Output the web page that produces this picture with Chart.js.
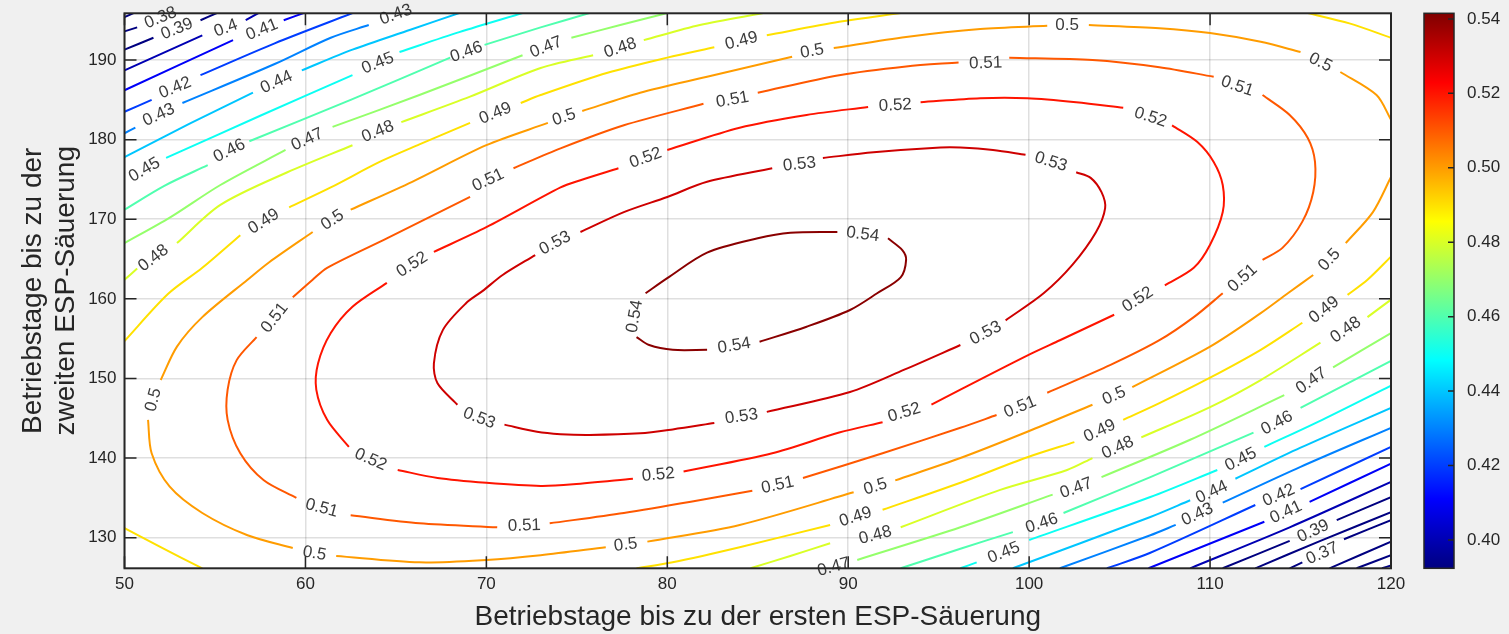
<!DOCTYPE html>
<html>
<head>
<meta charset="utf-8">
<script src="https://cdn.jsdelivr.net/npm/chart.js@4.4.1/dist/chart.umd.min.js"></script>
<style>
    html, body { margin: 0; padding: 0; background: #f0f0f0; }
    #wrap { width: 1509px; height: 634px; position: relative; }
</style>
</head>
<body>
<div id="wrap"><canvas id="contourChart"></canvas></div>
<script>
// axes
const xRange = [50, 120];
const yRange = [126.15, 195.87];
const xTicks = [50, 60, 70, 80, 90, 100, 110, 120];
const yTicks = [130, 140, 150, 160, 170, 180, 190];
const cbRange = [0.3924, 0.5415];
const cbTicks = [0.40, 0.42, 0.44, 0.46, 0.48, 0.50, 0.52, 0.54];
const xTitle = 'Betriebstage bis zu der ersten ESP-Säuerung';
const yTitle = ['Betriebstage bis zu der', 'zweiten ESP-Säuerung'];

// contour lines, [x, y]; null = gap left for the inline label
const c054 = [[78.8,160.7],[80.0,162.6],[82.2,165.8],[85.0,167.6],[86.8,168.3],[89.4,168.4],null,[92.2,167.6],[93.0,166.1],[93.2,164.9],[92.9,162.7],[91.6,160.7],[90.1,158.6],[87.7,156.5],[85.1,154.6],null,[82.2,153.6],[80.3,153.6],[79.0,154.2],[78.3,155.2]];
const c053 = [[72.7,165.5],[70.9,163.0],[69.8,161.0],[68.9,159.5],[67.6,156.1],[67.1,151.9],[67.3,149.4],[68.4,146.7],null,[71.0,144.2],[72.8,143.3],[74.1,143.0],[75.7,142.9],[78.5,143.1],[80.3,143.6],[82.6,144.4],null,[85.5,145.8],[90.1,148.3],[93.1,151.1],[96.2,154.2],null,[98.7,157.3],[100.8,160.7],[102.4,164.3],[103.7,168.4],[104.2,171.4],[104.0,173.4],[103.4,175.2],[102.6,175.9],null,[99.8,178.1],[98.0,178.7],[96.2,179.0],[95.1,179.0],[91.4,178.4],[88.6,177.7],null,[85.8,176.4],[82.2,174.7],[80.0,172.8],[77.6,170.9],[75.2,168.4]];
const c052 = [[80.0,178.7],[84.0,181.5],[87.7,183.1],[91.1,184.1],null,[94.0,184.7],[97.3,185.2],[99.9,185.2],[102.6,184.7],[105.2,184.0],null,[107.9,181.8],[109.3,179.7],[110.2,177.2],[110.7,174.3],[110.7,170.9],[110.0,166.8],[109.1,163.9],[107.5,161.7],null,[104.7,158.0],[101.7,154.8],[100.0,153.0],[96.2,148.6],[94.6,146.7],null,[91.9,144.5],[89.5,143.2],[85.8,140.6],[80.9,138.3],null,[78.1,137.4],[74.8,136.7],[73.0,136.5],[70.0,136.9],[67.3,137.5],[65.1,138.5],null,[62.4,141.4],[61.2,144.8],[60.6,148.6],[60.7,151.9],[61.4,155.7],[62.6,159.0],[64.5,162.0],null,[67.1,165.9],[70.0,169.0],[74.1,174.0],[75.2,174.9],[77.3,176.4]];
const c051 = [[98.9,190.3],[103.5,190.0],[107.2,189.1],[110.2,187.9],null,[112.9,185.6],[114.4,183.1],[115.4,180.2],[115.8,177.2],[115.7,173.4],[115.1,169.7],[114.0,166.4],[112.9,164.9],null,[110.7,160.7],[109.1,157.7],[107.2,154.8],[104.5,151.7],[101.0,148.2],null,[98.2,145.4],[96.2,143.8],[91.9,140.6],[87.5,137.5],null,[84.7,135.9],[81.3,134.5],[77.6,133.1],[73.5,131.8],null,[70.6,131.3],[66.3,131.8],[62.5,132.8],null,[59.5,135.0],[57.7,137.2],[56.4,140.6],[55.7,144.8],[55.7,148.6],[56.2,152.3],[57.3,155.2],null,[59.3,160.2],[60.4,162.4],[61.2,163.9],[64.5,167.6],[69.1,172.8],null,[71.5,176.4],[74.1,178.9],[77.6,181.8],[82.0,184.5],null,[85.0,185.9],[89.5,188.1],[93.2,189.2],[96.1,189.7]];
const c050 = [[120.0,175.3],[119.0,170.9],[117.5,167.0],null,[115.7,163.0],[114.3,160.7],[112.8,158.2],[110.0,154.0],[105.7,148.9],null,[103.5,146.7],[99.9,143.3],[96.2,140.0],[92.6,137.2],null,[90.3,135.7],[84.0,131.6],[78.9,129.5],null,[76.6,128.8],[73.0,127.8],[70.0,127.2],[66.3,126.9],[61.7,127.7],null,[59.3,128.7],[56.8,130.3],[54.3,133.1],[52.5,136.4],[51.5,140.6],[51.3,144.8],null,[52.0,149.8],[52.9,154.0],[54.3,157.7],[56.8,162.4],[58.0,164.6],[60.4,168.4],null,[62.5,171.2],[65.9,174.7],[70.0,179.3],[73.4,182.1],null,[75.3,183.6],[78.5,185.9],[82.2,187.9],[86.9,190.4],null,[89.2,191.5],[93.2,192.9],[97.3,193.9],[101.0,194.3],null,[103.3,194.4],[107.2,194.0],[110.0,193.4],[112.8,192.3],[115.0,191.0],null,[117.2,188.5],[119.2,185.6],[120.0,182.5]];
const c049a = [[115.4,195.9],[117.7,194.6],[120.0,192.8]];
const c049b = [[92.9,195.9],[89.5,194.8],[85.5,193.1],null,[82.6,191.6],[80.0,190.3],[76.7,188.4],[73.0,185.6],[71.9,184.6],null,[69.1,182.1],[66.3,179.4],[64.1,177.2],[61.4,174.0],[59.1,171.5],null,[56.4,168.0],[54.3,163.9],[52.4,160.6],[50.0,154.7]];
const c049c = [[50.0,131.2],[52.0,128.8],[54.3,126.15]];
const c049d = [[78.3,126.15],[80.3,126.9],[84.0,128.8],[89.0,131.6],null,[91.9,133.5],[96.2,136.9],[99.9,140.1],[102.5,142.0],null,[105.2,144.8],[107.2,146.9],[110.0,150.1],[112.8,153.6],[115.1,157.0],null,[117.6,160.5],[118.7,162.4],[120.0,165.3]];
const c048a = [[85.3,195.9],[81.8,194.4],[78.7,192.5],null,[75.9,190.6],[73.0,189.0],[69.1,185.4],[65.3,182.2],null,[62.6,179.3],[59.0,175.9],[55.3,171.8],[52.9,167.0],null,[50.7,163.8],[50.0,162.4]];
const c048b = [[84.6,126.15],[86.8,127.7],[89.0,129.3],null,[92.9,131.3],[98.4,136.0],[102.1,138.5],[103.5,140.0],null,[106.2,142.6],[110.0,146.4],[112.8,149.8],[116.1,154.5],null,[118.7,157.7],[120.0,159.9]];
const c047a = [[80.0,195.9],[77.4,194.4],[74.7,192.8],null,[72.0,190.6],[66.3,185.6],[61.5,181.6],null,[58.9,178.7],[55.3,174.3],[52.5,170.2],[50.0,167.0]];
const c047b = [[90.5,127.2],[96.2,131.3],[101.3,135.4],null,[104.0,137.6],[108.9,142.3],[114.1,147.9],null,[116.8,151.4],[120.0,155.7]];
const c046a = [[75.7,195.9],[73.0,194.1],[69.9,191.9],null,[68.0,190.3],[62.5,185.0],[56.9,179.8],null,[54.6,176.8],[52.2,174.2],[50.0,171.2]];
const c046b = [[92.9,126.15],[96.2,128.6],[99.1,130.7],null,[101.9,133.1],[106.7,137.6],[112.4,143.2],null,[115.0,146.3],[120.0,152.2]];
const c045a = [[72.0,195.9],[68.5,193.5],[65.2,191.0],null,[62.6,188.1],[57.5,183.0],[52.3,177.7]];
const c045b = [[96.2,126.15],[97.1,126.9],null,[100.0,129.7],[106.7,135.1],[110.4,138.5],null,[113.0,141.4],[116.2,144.8],[120.0,149.1]];
const c044a = [[68.5,195.9],[65.8,193.8],[62.6,191.3],[59.8,188.7],null,[57.1,185.9],[53.6,182.0],[50.0,177.8]];
const c044b = [[99.1,126.15],[106.7,132.6],[108.9,134.7],null,[111.4,137.4],[115.0,141.3],[120.0,146.3]];
const c043a = [[63.5,194.4],[61.4,192.8],[58.3,189.5],[53.2,184.6],null,[50.6,181.5],[50.0,180.8]];
const c043b = [[101.7,126.15],[106.7,130.3],[108.1,131.6],null,[110.7,134.4],[115.0,138.9],[120.0,143.8]];
const c042a = [[62.6,195.9],[58.3,192.1],[54.2,188.1],null,[51.5,185.0],[50.0,183.5]];
const c042b = [[104.3,126.15],[106.7,128.1],[112.5,134.1],null,[115.0,136.1],[120.0,141.4]];
const c041a = [[59.9,195.9],[58.8,195.0],null,[56.0,192.5],[50.0,186.2]];
const c041b = [[106.6,126.15],[113.0,132.0],null,[115.5,134.5],[120.0,139.3]];
const c040a = [[57.4,195.9],[56.7,195.0],null,[54.3,193.1],[50.0,188.7]];
const c040b = [[108.9,126.15],[114.4,131.3],[120.0,137.0]];
const c039a = [[55.1,195.9],[54.2,195.0],null,[51.6,192.8],[50.0,191.3]];
const c039b = [[110.7,126.15],[114.4,129.6],null,[117.0,132.2],[120.0,135.1]];
const c038a = [[50.7,194.1],[50.0,193.6]];
const c038b = [[112.5,126.15],[116.1,129.6],[120.0,133.2]];
const c037a = [[50.0,195.4],[50.5,195.9]];
const c037b = [[114.4,126.15],[115.1,126.9],null,[117.4,129.8],[120.0,132.2]];
const c036 = [[116.6,126.15],[120.0,129.5]];
const c035 = [[118.1,126.15],[120.0,127.8]];
const c034 = [[119.5,126.15],[120.0,126.5]];

// inline labels [x, y, angle in deg]
const lab054 = [[90.8,168.1,7],[83.7,154.1,-9],[78.2,157.8,-80]];
const lab053 = [[69.6,145.0,21],[84.1,145.2,-8],[97.6,155.7,-28],[101.2,177.2,17],[87.3,176.9,-6],[73.8,167.0,-28]];
const lab052 = [[92.6,184.3,-3],[106.7,182.8,18],[106.0,159.9,-33],[93.1,145.7,-17],[79.5,137.9,-5],[63.6,139.8,24],[65.9,164.3,-33],[78.8,177.7,-20]];
const lab051 = [[97.6,189.6,-2],[111.5,186.7,19],[111.8,162.6,-42],[99.5,146.4,-22],[86.1,136.6,-12],[72.1,131.5,-2],[60.9,133.7,15],[58.3,157.6,-52],[70.1,174.9,-25],[83.6,185.0,-10]];
const lab050 = [[116.6,164.9,-47],[104.7,147.8,-24],[91.5,136.4,-17],[77.7,129.1,-7],[60.5,128.0,10],[51.6,147.3,-75],[61.5,169.9,-33],[74.3,182.8,-18],[88.0,191.1,-10],[102.1,194.3,0],[116.1,189.7,26]];
const lab049 = [[84.1,192.4,-14],[70.5,183.3,-22],[57.7,169.7,-32],[90.4,132.6,-18],[103.9,143.4,-25],[116.3,158.6,-38]];
const lab048 = [[77.4,191.5,-18],[64.0,181.0,-22],[51.6,165.1,-38],[91.5,130.3,-15],[104.9,141.3,-25],[117.5,156.1,-35]];
const lab047 = [[73.3,191.6,-22],[60.1,180.0,-25],[89.2,126.3,-15],[102.6,136.2,-20],[115.6,149.7,-35]];
const lab046 = [[68.9,191.0,-20],[55.8,178.6,-27],[100.7,131.8,-18],[113.7,144.4,-28]];
const lab045 = [[64.0,189.6,-22],[51.1,176.2,-30],[98.6,128.1,-22],[111.7,139.8,-27]];
const lab044 = [[58.4,187.2,-25],[110.1,135.7,-25]];
const lab043 = [[65.0,195.7,-20],[51.9,183.1,-25],[109.3,132.9,-25]];
const lab042 = [[52.8,186.5,-22],[113.8,135.3,-24]];
const lab041 = [[57.6,193.8,-22],[114.2,133.2,-25]];
const lab040 = [[55.6,194.0,-20]];
const lab039 = [[52.9,193.9,-22],[115.7,130.8,-25]];
const lab038 = [[52.0,195.3,-22]];
const lab037 = [[116.2,128.0,-24]];

const pieces = [
    [0.54, c054], [0.53, c053], [0.52, c052], [0.51, c051], [0.5, c050],
    [0.49, c049a], [0.49, c049b], [0.49, c049c], [0.49, c049d],
    [0.48, c048a], [0.48, c048b], [0.47, c047a], [0.47, c047b],
    [0.46, c046a], [0.46, c046b], [0.45, c045a], [0.45, c045b],
    [0.44, c044a], [0.44, c044b], [0.43, c043a], [0.43, c043b],
    [0.42, c042a], [0.42, c042b], [0.41, c041a], [0.41, c041b],
    [0.4, c040a], [0.4, c040b], [0.39, c039a], [0.39, c039b],
    [0.38, c038a], [0.38, c038b], [0.37, c037a], [0.37, c037b],
    [0.36, c036], [0.35, c035], [0.34, c034]
];
const labelSets = [
    [0.54, lab054], [0.53, lab053], [0.52, lab052], [0.51, lab051], [0.5, lab050],
    [0.49, lab049], [0.48, lab048], [0.47, lab047], [0.46, lab046], [0.45, lab045],
    [0.44, lab044], [0.43, lab043], [0.42, lab042], [0.41, lab041], [0.4, lab040],
    [0.39, lab039], [0.38, lab038], [0.37, lab037]
];

const FONT = '"Liberation Sans", Arial, sans-serif';
const axisColor = '#262626';

// jet colormap
const jet = t => {
    t = Math.min(1, Math.max(0, t));
    const c = v => Math.round(255 * Math.min(1, Math.max(0, v)));
    return `rgb(${c(1.5 - Math.abs(4 * t - 3))},${c(1.5 - Math.abs(4 * t - 2))},${c(1.5 - Math.abs(4 * t - 1))})`;
};
const levelColor = lv => jet((lv - cbRange[0]) / (cbRange[1] - cbRange[0]));

const datasets = pieces.map(([lv, pts]) => ({
    label: String(lv),
    data: pts.map(p => p ? { x: p[0], y: p[1] } : { x: null, y: null }),
    showLine: true,
    borderColor: levelColor(lv),
    borderWidth: 2,
    pointRadius: 0,
    tension: 0.3,
    spanGaps: false
}));

// scale boxes: fixed size, no extra label padding pushed into the layout
const fixBox = (w, h) => s => {
    if (w !== null) s.width = w;
    if (h !== null) s.height = h;
    s.paddingTop = 0; s.paddingBottom = 0; s.paddingLeft = 0; s.paddingRight = 0;
};

const figureBits = {
    id: 'figureBits',
    beforeDraw(chart) {
        const { ctx, chartArea: a, width, height } = chart;
        ctx.save();
        ctx.fillStyle = '#f0f0f0';
        ctx.fillRect(0, 0, width, height);
        ctx.fillStyle = '#ffffff';
        ctx.fillRect(a.left, a.top, a.right - a.left, a.bottom - a.top);
        ctx.restore();
    },
    afterDatasetsDraw(chart) {
        const { ctx, scales: { x, y } } = chart;
        ctx.save();
        ctx.font = `17px ${FONT}`;
        ctx.fillStyle = '#3c3c3c';
        ctx.textAlign = 'center';
        ctx.textBaseline = 'middle';
        labelSets.forEach(([lv, list]) => {
            list.forEach(([lx, ly, ang]) => {
                ctx.save();
                ctx.translate(x.getPixelForValue(lx), y.getPixelForValue(ly));
                ctx.rotate(ang * Math.PI / 180);
                ctx.fillText(String(lv), 0, 0);
                ctx.restore();
            });
        });
        ctx.restore();
    },
    afterDraw(chart) {
        const { ctx, chartArea: a, scales: { x, y, cb } } = chart;
        ctx.save();
        // box + inward ticks on all sides
        ctx.strokeStyle = axisColor;
        ctx.lineWidth = 1.5;
        const tl = 12;
        ctx.beginPath();
        xTicks.forEach(v => {
            const px = x.getPixelForValue(v);
            ctx.moveTo(px, a.bottom); ctx.lineTo(px, a.bottom - tl);
            ctx.moveTo(px, a.top); ctx.lineTo(px, a.top + tl);
        });
        yTicks.forEach(v => {
            const py = y.getPixelForValue(v);
            ctx.moveTo(a.left, py); ctx.lineTo(a.left + tl, py);
            ctx.moveTo(a.right, py); ctx.lineTo(a.right - tl, py);
        });
        ctx.stroke();
        ctx.lineWidth = 2;
        ctx.strokeRect(a.left, a.top, a.right - a.left, a.bottom - a.top);

        // colorbar
        const bx = a.right + 33, bw = 30;
        const grad = ctx.createLinearGradient(0, cb.bottom, 0, cb.top);
        for (let i = 0; i <= 32; i++) grad.addColorStop(i / 32, jet(i / 32));
        ctx.fillStyle = grad;
        ctx.fillRect(bx, cb.top, bw, cb.bottom - cb.top);
        ctx.lineWidth = 1.5;
        ctx.strokeRect(bx, cb.top, bw, cb.bottom - cb.top);
        ctx.beginPath();
        cbTicks.forEach(v => {
            const py = cb.getPixelForValue(v);
            ctx.moveTo(bx + bw, py); ctx.lineTo(bx + bw - 6, py);
        });
        ctx.stroke();
        ctx.restore();
    }
};

const tickFont = { family: FONT, size: 17 };
const titleFont = { family: FONT, size: 28, lineHeight: 1.2 };
const gridStyle = { color: 'rgba(38,38,38,0.15)', lineWidth: 1.5, drawTicks: false };

new Chart(document.getElementById('contourChart'), {
    type: 'scatter',
    data: { datasets },
    plugins: [figureBits],
    options: {
        responsive: true,
        maintainAspectRatio: false,
        devicePixelRatio: 1,
        animation: false,
        events: [],
        layout: { padding: { top: 13.3, left: 0, right: 0, bottom: 0 } },
        plugins: { legend: { display: false }, tooltip: { enabled: false } },
        scales: {
            x: {
                type: 'linear',
                min: xRange[0], max: xRange[1],
                afterBuildTicks: s => { s.ticks = xTicks.map(v => ({ value: v })); },
                afterFit: fixBox(null, 65.7),
                grid: gridStyle,
                border: { display: false },
                ticks: { font: tickFont, color: axisColor, padding: 6, maxRotation: 0, autoSkip: false },
                title: { display: true, text: xTitle, font: titleFont, color: axisColor, padding: { top: 0, bottom: 0 } }
            },
            y: {
                type: 'linear',
                position: 'left',
                min: yRange[0], max: yRange[1],
                afterBuildTicks: s => { s.ticks = yTicks.map(v => ({ value: v })); },
                afterFit: fixBox(124.5, null),
                grid: gridStyle,
                border: { display: false },
                ticks: { font: tickFont, color: axisColor, padding: 8 },
                title: { display: true, text: yTitle, font: titleFont, color: axisColor, padding: { top: 16, bottom: 0 } }
            },
            cb: {
                type: 'linear',
                axis: 'y',
                position: 'right',
                min: cbRange[0], max: cbRange[1],
                afterBuildTicks: s => { s.ticks = cbTicks.map(v => ({ value: v })); },
                afterFit: fixBox(118, null),
                grid: { display: false },
                border: { display: false },
                ticks: { font: tickFont, color: axisColor, padding: 68, callback: v => v.toFixed(2) }
            }
        }
    }
});
</script>
</body>
</html>
